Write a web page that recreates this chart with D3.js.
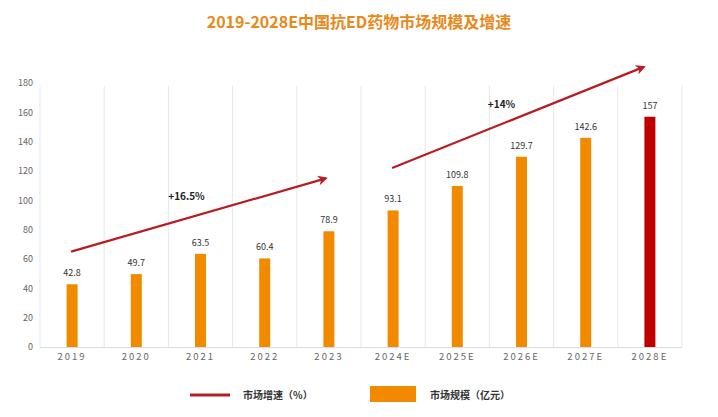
<!DOCTYPE html>
<html><head><meta charset="utf-8">
<script src="https://cdn.jsdelivr.net/npm/d3@7/dist/d3.min.js"></script>
<style>body{margin:0;background:#fff;} svg{display:block;font-family:"Noto Sans CJK SC","Noto Sans",sans-serif;}</style>
</head><body><svg id="c" width="718" height="417"></svg>
<script>
const categories = ["2019","2020","2021","2022","2023","2024E","2025E","2026E","2027E","2028E"];
const marketSize = [42.8,49.7,63.5,60.4,78.9,93.1,109.8,129.7,142.6,157];
const yTicks = [0,20,40,60,80,100,120,140,160,180];
const growthArrows = [
  {from:"2019", v0:65, to:"2023", v1:115, label:"+16.5%", labelAt:"2021", labelV:103},
  {from:"2024E", v0:122, to:"2028E", v1:191, label:"+14%", labelAt:"2026E", labelV:166}
];
const title = "2019-2028E中国抗ED药物市场规模及增速";
const legendLine = "市场增速（%）";
const legendBar = "市场规模（亿元）";

const svg = d3.select("#c");
const x = d3.scaleBand().domain(categories).range([40,682]).padding(0);
const y = d3.scaleLinear().domain([0,180]).range([347,83]);
const cx = c => x(c) + x.bandwidth()/2;

svg.append("text").attr("x",359).attr("y",28).attr("text-anchor","middle")
  .attr("font-size",16).attr("font-weight","bold").attr("fill","#E8891A").text(title);

// vertical gridlines
const grid = svg.append("g");
grid.selectAll("line").data(d3.range(categories.length+1)).join("line")
  .attr("x1",i=>40+i*x.step()).attr("x2",i=>40+i*x.step())
  .attr("y1",y(178)).attr("y2",y(0)).attr("stroke","#e4e7ec").attr("stroke-width",1);
svg.append("line").attr("x1",40).attr("x2",682).attr("y1",y(0)+0.5).attr("y2",y(0)+0.5)
  .attr("stroke","#d9dce2");

// y axis
const ya = svg.append("g").attr("transform","translate(33,0)")
  .call(d3.axisLeft(y).tickValues(yTicks).tickSize(0).tickPadding(0));
ya.select(".domain").remove();
ya.selectAll("text").attr("font-size",9).attr("fill","#666").attr("font-family","'Noto Sans CJK SC',sans-serif");

// x axis
const xa = svg.append("g").attr("transform",`translate(0,${y(0)})`)
  .call(d3.axisBottom(x).tickSize(0).tickPadding(6));
xa.select(".domain").remove();
xa.selectAll("text").attr("font-size",9.5).attr("fill","#666").attr("letter-spacing","2px")
  .attr("font-family","'Noto Sans CJK SC',sans-serif");

// bars
const bw = 11;
svg.append("g").selectAll("rect").data(marketSize).join("rect")
  .attr("x",(d,i)=>cx(categories[i])-bw/2).attr("width",bw)
  .attr("y",d=>y(d)).attr("height",d=>y(0)-y(d))
  .attr("fill",(d,i)=>i===categories.length-1?"#C00000":"#F28A00");
svg.append("g").selectAll("text").data(marketSize).join("text")
  .attr("x",(d,i)=>cx(categories[i])).attr("y",d=>y(d)-8)
  .attr("text-anchor","middle").attr("font-size",9).attr("fill","#333").text(d=>d);

// arrows
const defs = svg.append("defs");
defs.append("marker").attr("id","ah").attr("viewBox","0 0 10 10").attr("refX",8).attr("refY",5)
  .attr("markerWidth",4.5).attr("markerHeight",4.5).attr("orient","auto")
  .append("path").attr("d","M0,0 L10,5 L0,10 L3,5 Z").attr("fill","#B81C22");
growthArrows.forEach((a,k)=>{
  const x0 = cx(a.from)-1, x1 = cx(a.to)-(k===0?3:6);
  svg.append("line").attr("x1",x0).attr("y1",y(a.v0)).attr("x2",x1).attr("y2",y(a.v1))
    .attr("stroke","#B81C22").attr("stroke-width",2.2).attr("marker-end","url(#ah)");
  svg.append("text").attr("x",cx(a.labelAt)+(k===0?-14:-20)).attr("y",y(a.labelV)+4)
    .attr("text-anchor","middle").attr("font-size",10).attr("font-weight","bold").attr("fill","#222")
    .text(a.label);
});

// legend
svg.append("line").attr("x1",190).attr("x2",230).attr("y1",395).attr("y2",395)
  .attr("stroke","#B81C22").attr("stroke-width",3);
svg.append("text").attr("x",243).attr("y",399).attr("font-size",10).attr("font-weight","bold")
  .attr("fill","#333").text(legendLine);
svg.append("rect").attr("x",370).attr("y",386).attr("width",46).attr("height",16).attr("fill","#F28A00");
svg.append("text").attr("x",430).attr("y",399).attr("font-size",10).attr("font-weight","bold")
  .attr("fill","#333").text(legendBar);
</script></body></html>
